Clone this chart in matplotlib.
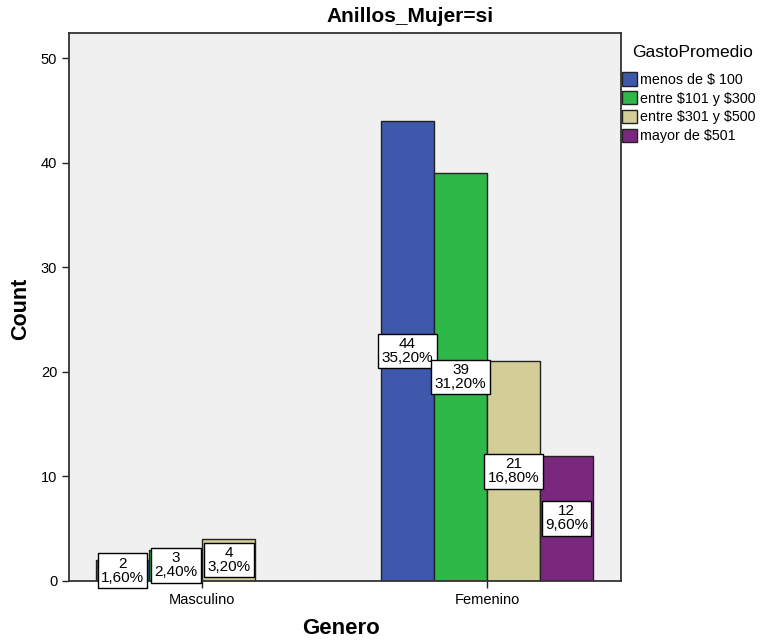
import matplotlib
matplotlib.use("Agg")
import matplotlib.pyplot as plt
import numpy as np
from matplotlib.patches import Patch

plt.rcParams['font.family'] = ['Liberation Sans', 'DejaVu Sans']
plt.rcParams['text.parse_math'] = False

categories = ["Masculino", "Femenino"]
series = ["menos de $ 100", "entre $101 y $300", "entre $301 y $500", "mayor de $501"]
values = {
    "menos de $ 100": [2, 44],
    "entre $101 y $300": [3, 39],
    "entre $301 y $500": [4, 21],
    "mayor de $501": [0, 12],
}
colors = ["#3E58AC", "#2EB848", "#D3CE97", "#7A287D"]

total = sum(sum(v) for v in values.values())

W, H = 763, 643
fig = plt.figure(figsize=(W / 100, H / 100), dpi=100)
ax = fig.add_axes([69 / W, (H - 581) / H, (621 - 69) / W, (581 - 33) / H])
ax.set_facecolor("#F0F0F0")

x = np.arange(len(categories))
bw = 0.186
for i, (s, c) in enumerate(zip(series, colors)):
    offs = (i - 1.5) * bw
    vals = values[s]
    ax.bar(x + offs, vals, width=bw, color=c, edgecolor="#222222", linewidth=1.0, zorder=2)
    for xi, v in zip(x, vals):
        if v == 0:
            continue
        pct = f"{v / total * 100:.2f}".replace(".", ",") + "%"
        ax.text(xi + offs, v / 2, f"{v}\n{pct}", ha="center", va="center", fontsize=11,
                linespacing=1.0, zorder=4,
                bbox=dict(boxstyle="square,pad=0.22", facecolor="white", edgecolor="black", linewidth=1.0))

ax.set_xlim(-0.467, 1.47)
ax.set_ylim(0, 52.4)
ax.set_yticks([0, 10, 20, 30, 40, 50])
ax.set_xticks(x)
ax.set_xticklabels(categories)
ax.tick_params(axis="both", labelsize=10.5, length=5, width=1, direction="out", color="#222222")
for sp in ax.spines.values():
    sp.set_color("#333333")
    sp.set_linewidth(1.3)

fig.text(21 / W, 1 - 309 / H, "Count", rotation=90, ha="center", va="center",
         fontsize=15.5, fontweight="bold")
fig.text(341 / W, 1 - 628 / H, "Genero", ha="center", va="center",
         fontsize=16, fontweight="bold")
fig.text(410 / W, 1 - 17 / H, "Anillos_Mujer=si", ha="center", va="center",
         fontsize=15, fontweight="bold")

handles = [Patch(facecolor=c, edgecolor="#222222", linewidth=1.0) for c in colors]
leg = fig.legend(handles, series, title="GastoPromedio", loc="upper left",
                 bbox_to_anchor=(619 / W, 1 - 42 / H), frameon=False, fontsize=10.3,
                 title_fontsize=12.5, handlelength=1.05, handleheight=1.05, handletextpad=0.25,
                 labelspacing=0.3, borderaxespad=0, borderpad=0.2)
leg._legend_box.align = "left"
leg._legend_box.sep = 9
leg.get_title().set_position((10, 0))

fig.savefig("out.png", dpi=100)
